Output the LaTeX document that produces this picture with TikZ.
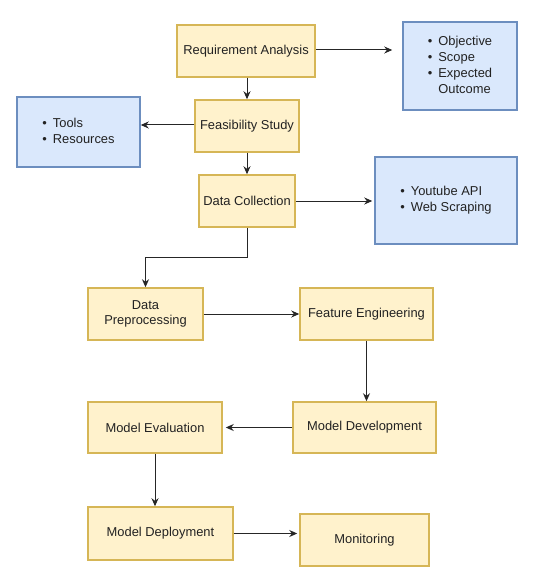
\documentclass[tikz,border=0pt]{standalone}
\usepackage{fontspec}
\setmainfont{Liberation Sans}
\usetikzlibrary{arrows.meta}
\definecolor{stepfill}{HTML}{FFF2CC}
\definecolor{stepline}{HTML}{D6B656}
\definecolor{notefill}{HTML}{DAE8FC}
\definecolor{noteline}{HTML}{6C8EBF}
\definecolor{txt}{HTML}{222222}
\tikzset{
  stepbox/.style={draw=stepline, fill=stepfill, line width=1.5pt, inner sep=0pt,
    text=txt, align=center, font=\fontsize{12.9}{15.5}\selectfont},
  notebox/.style={draw=noteline, fill=notefill, line width=1.5pt, inner sep=0pt,
    text=txt, font=\fontsize{12.9}{16}\selectfont},
  arr/.style={draw=black!85, line width=1pt, -{Stealth[length=8pt,width=7pt]}}
}
\newcommand{\bulletlist}[1]{\begin{tabular}{@{}l@{\hspace{6pt}}l@{}}#1\end{tabular}}
\renewcommand{\arraystretch}{1.0}
\begin{document}
\begin{tikzpicture}[x=1pt,y=-1pt]
  \useasboundingbox (0,0) rectangle (535,580);
  % main process steps
  \node[stepbox, minimum width=138, minimum height=52] (ra) at (246,51) {Requirement Analysis};
  \node[stepbox, minimum width=104, minimum height=52] (fs) at (247,126) {Feasibility Study};
  \node[stepbox, minimum width=96, minimum height=52] (dc) at (247,201) {Data Collection};
  \node[stepbox, minimum width=115, minimum height=52] (dp) at (145.5,314) {Data\\Preprocessing};
  \node[stepbox, minimum width=133, minimum height=52] (fe) at (366.5,314) {Feature Engineering};
  \node[stepbox, minimum width=143, minimum height=51] (md) at (364.5,427.5) {Model Development};
  \node[stepbox, minimum width=134, minimum height=51] (me) at (155,427.5) {Model Evaluation};
  \node[stepbox, minimum width=145, minimum height=53] (mdep) at (160.5,533.5) {Model Deployment};
  \node[stepbox, minimum width=129, minimum height=52] (mon) at (364.5,540) {Monitoring};
  % side notes
  \node[notebox, minimum width=114, minimum height=88] (obj) at (460,66)
    {\bulletlist{\textbullet & Objective\\ \textbullet & Scope\\ \textbullet & Expected\\ & Outcome}};
  \node[notebox, minimum width=123, minimum height=70] (tools) at (78.5,132)
    {\bulletlist{\textbullet & Tools\\ \textbullet & Resources}};
  \node[notebox, minimum width=142, minimum height=87] (yt) at (446,200.5)
    {\bulletlist{\textbullet & Youtube API\\ \textbullet & Web Scraping}};
  % connectors
  \draw[arr, shorten >=10pt] (ra.east |- 0,50) -- (obj.west |- 0,50);
  \draw[arr] (ra.south -| fs.north) -- (fs.north);
  \draw[arr] (fs.west |- 0,125) -- (tools.east |- 0,125);
  \draw[arr] (fs.south) -- (dc.north);
  \draw[arr, shorten >=2pt] (dc.east) -- (yt.west |- dc.east);
  \draw[arr] (dc.south) -- ++(0,30) -| (dp.north);
  \draw[arr] (dp.east) -- (fe.west);
  \draw[arr] (fe.south) -- (fe.south |- md.north);
  \draw[arr, shorten >=3pt] (md.west) -- (me.east);
  \draw[arr] (me.south) -- (me.south |- mdep.north);
  \draw[arr, shorten >=2pt] (mdep.east) -- (mdep.east -| mon.west);
\end{tikzpicture}
\end{document}
